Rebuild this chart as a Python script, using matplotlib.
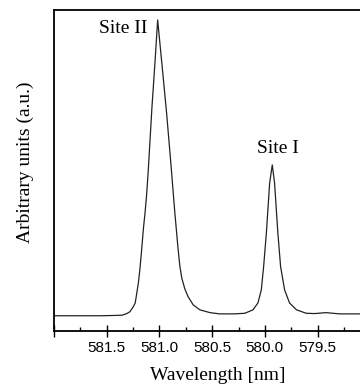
import numpy as np
import matplotlib.pyplot as plt
from matplotlib.ticker import MultipleLocator

# Spectrum (wavelength in nm, intensity in a.u.)
wavelength = [582.00, 581.75, 581.56, 581.42, 581.35, 581.31, 581.28, 581.25,
              581.23, 581.218, 581.20, 581.185, 581.169, 581.152, 581.138,
              581.1235, 581.109, 581.095, 581.071, 581.043,
              581.017, 580.977, 580.932, 580.892, 580.854, 580.825, 580.807,
              580.788, 580.759, 580.728, 580.68, 580.617, 580.52, 580.43, 580.29,
              580.19, 580.113, 580.066, 580.034, 580.012, 579.986, 579.955,
              579.93, 579.908, 579.877, 579.851, 579.813, 579.766, 579.70,
              579.608, 579.53, 579.42, 579.29, 579.10, 578.90]
intensity = [0.049, 0.049, 0.049, 0.050, 0.051, 0.056, 0.062, 0.077,
             0.090, 0.115, 0.154, 0.200, 0.260, 0.330, 0.375,
             0.430, 0.500, 0.580, 0.720, 0.860,
             1.000, 0.860, 0.700, 0.540, 0.380, 0.270, 0.210,
             0.170, 0.135, 0.110, 0.084, 0.068, 0.059, 0.055, 0.055,
             0.057, 0.068, 0.090, 0.132, 0.207, 0.315, 0.475,
             0.534, 0.475, 0.315, 0.207, 0.132, 0.090, 0.068,
             0.057, 0.056, 0.059, 0.055, 0.055, 0.055]

tick_pos = [582.0, 581.5, 581.0, 580.5, 580.0, 579.5, 579.0]
tick_lab = ["", "581.5", "581.0", "580.5", "580.0", "579.5", ""]

fig = plt.figure(figsize=(3.6, 3.86), dpi=100)
# axes run past the right edge, the original figure is cropped there
ax = fig.add_axes([0.15, 0.1425, 0.908, 0.8316])

ax.plot(wavelength, intensity, color="#222222", lw=0.9)

ax.set_xlim(582.0, 578.9)
ax.set_ylim(0, 1.032)

ax.set_xticks(tick_pos)
ax.set_xticklabels(tick_lab, family="Liberation Sans", fontsize=11)
ax.xaxis.set_minor_locator(MultipleLocator(0.25))
ax.tick_params(axis="x", which="major", direction="inout", length=8, width=1, pad=3)
ax.tick_params(axis="x", which="minor", direction="in", length=3, width=1)
ax.set_yticks([])

for s in ["left", "bottom", "top"]:
    ax.spines[s].set_linewidth(1.3)
ax.spines["right"].set_visible(False)

ax.set_xlabel("Wavelength [nm]", family="Liberation Serif", fontsize=14)
ax.xaxis.set_label_coords(0.5, -0.112)
ax.set_ylabel("Arbitrary units (a.u.)", family="Liberation Serif", fontsize=14)
ax.yaxis.set_label_coords(-0.062, 0.525)

ax.text(581.11, 0.958, "Site II", family="Liberation Serif", fontsize=14,
        ha="right", va="baseline")
ax.text(579.88, 0.572, "Site I", family="Liberation Serif", fontsize=14,
        ha="center", va="baseline")

fig.savefig("out.png", dpi=100)
